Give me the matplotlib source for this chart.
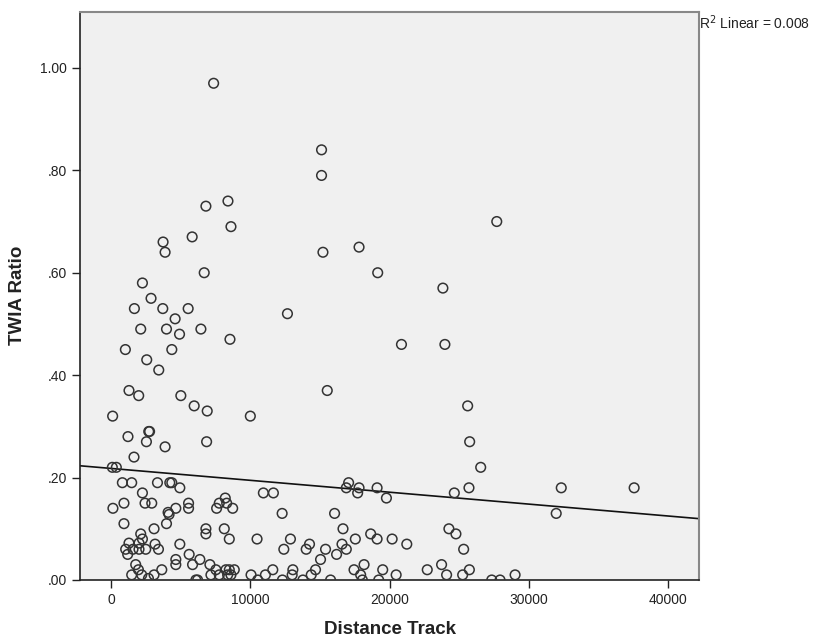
import numpy as np
import matplotlib.pyplot as plt

# points (distance, ratio)
distance = [
    7354, 15112, 15112, 8385, 6799, 8601, 5811, 3720, 3865, 15213, 17809, 6677, 19150,
    27709, 2235, 23836, 2855, 1658, 3699, 5523, 12661, 4586, 2113, 3966, 6439, 4903,
    8529, 1009, 4348, 20858, 23980,
    2545, 3410, 1270, 1968, 4997, 15523, 5956, 6893, 94, 9993, 25617, 1197, 2689, 2750,
    2523, 3865, 6850, 25761, 1630, 72, 360, 26554,
    793, 1464, 3317, 4204, 4348, 4925, 2235, 10930, 11651, 908, 2423, 2906, 5552, 5552,
    115, 4080, 4150, 4636, 7758, 8292, 8190, 7570, 8724, 12279,
    17059, 16893, 17809, 17708, 19106, 19777, 24657, 25711, 16050, 32345, 37585, 31983,
    908, 3966, 3072, 6799, 8120, 16655, 24268,
    2113, 6799, 18645, 24773,
    1269, 2235, 1990, 1557, 1990, 2473, 1031, 3144, 3389, 1175, 4925,
    8480, 10476, 12877, 12401, 14247, 14009, 15400, 16583, 16893, 17542, 19106, 20188,
    21241, 25329,
    5595, 16194, 15040, 4636, 6366,
    1752, 4636, 5840, 7087, 18169, 23742,
    1947, 3627, 7520, 8240, 8480, 8840, 11608, 13050, 14680, 17448, 19510, 22712, 25740,
    1464, 2185, 3072, 7160, 7760, 8360, 8600, 10044, 11075, 13000, 14370, 17924, 20476,
    24103, 25257, 29027,
    2668, 6078, 6200, 10527, 12300, 13771, 15761, 18047, 19222, 27347, 27945,
]
ratio = [
    0.97, 0.84, 0.79, 0.74, 0.73, 0.69, 0.67, 0.66, 0.64, 0.64, 0.65, 0.60, 0.60,
    0.70, 0.58, 0.57, 0.55, 0.53, 0.53, 0.53, 0.52, 0.51, 0.49, 0.49, 0.49, 0.48,
    0.47, 0.45, 0.45, 0.46, 0.46,
    0.43, 0.41, 0.37, 0.36, 0.36, 0.37, 0.34, 0.33, 0.32, 0.32, 0.34, 0.28, 0.29, 0.29,
    0.27, 0.26, 0.27, 0.27, 0.24, 0.22, 0.22, 0.22,
    0.19, 0.19, 0.19, 0.19, 0.19, 0.18, 0.17, 0.17, 0.17, 0.15, 0.15, 0.15, 0.15, 0.14,
    0.14, 0.132, 0.128, 0.14, 0.15, 0.15, 0.16, 0.14, 0.14, 0.13,
    0.19, 0.18, 0.18, 0.17, 0.18, 0.16, 0.17, 0.18, 0.13, 0.18, 0.18, 0.13,
    0.11, 0.11, 0.10, 0.10, 0.10, 0.10, 0.10,
    0.09, 0.09, 0.09, 0.09,
    0.072, 0.08, 0.072, 0.06, 0.06, 0.06, 0.06, 0.07, 0.06, 0.05, 0.07,
    0.08, 0.08, 0.08, 0.06, 0.07, 0.06, 0.06, 0.07, 0.06, 0.08, 0.08, 0.08,
    0.07, 0.06,
    0.05, 0.05, 0.04, 0.04, 0.04,
    0.03, 0.03, 0.03, 0.03, 0.03, 0.03,
    0.02, 0.02, 0.02, 0.02, 0.02, 0.02, 0.02, 0.02, 0.02, 0.02, 0.02, 0.02, 0.02,
    0.01, 0.01, 0.01, 0.01, 0.01, 0.01, 0.01, 0.01, 0.01, 0.01, 0.01, 0.01, 0.01,
    0.01, 0.01, 0.01,
    0.003, 0.0, 0.0, 0.0, 0.0, 0.0, 0.0, 0.0, 0.0, 0.0, 0.0,
]
# fit line as shown in the reference (SPSS linear fit)
fit_intercept = 0.2178
fit_slope = -2.32e-6
xticks = [0, 10000, 20000, 30000, 40000]
yticks = [0.0, 0.2, 0.4, 0.6, 0.8, 1.0]
ytick_labels = ['.00', '.20', '.40', '.60', '.80', '1.00']
r2_text = 'R$^2$ Linear = 0.008'

x = np.array(distance, dtype=float)
y = np.array(ratio)

plt.rcParams['font.family'] = ['Liberation Sans', 'DejaVu Sans']

fig = plt.figure(figsize=(8.15, 6.43), dpi=100)
ax = fig.add_axes([0.0982, 0.098, 0.7595, 0.884])
ax.set_facecolor('#f0f0f0')

ax.scatter(x, y, s=48, facecolors='none', edgecolors='#333333', linewidths=1.1, zorder=3)

xl = (-2250, 42250)
ax.plot(xl, [fit_intercept + fit_slope * v for v in xl], color='#111111', linewidth=1.2, zorder=2)

ax.set_xlim(*xl)
ax.set_ylim(0, 1.11)
ax.set_xticks(xticks)
ax.set_xticklabels([str(t) for t in xticks])
ax.set_yticks(yticks)
ax.set_yticklabels(ytick_labels)
ax.tick_params(axis='both', direction='out', length=6, width=1, labelsize=10, colors='#222222')

for side in ['top', 'right']:
    ax.spines[side].set_color('#888888')
    ax.spines[side].set_linewidth(1.5)
for side in ['left', 'bottom']:
    ax.spines[side].set_color('#222222')
    ax.spines[side].set_linewidth(1.2)

lbl_font = dict(family=['Liberation Sans', 'DejaVu Sans'],
                fontsize=13.5, fontweight='bold', color='#222222')
ax.set_xlabel('Distance Track', labelpad=10, **lbl_font)
ax.set_ylabel('TWIA Ratio', labelpad=10, **lbl_font)

fig.text(0.858, 0.965, r2_text, fontsize=10, color='#222222', ha='left', va='center')

fig.savefig('out.png', dpi=100, facecolor='white')
